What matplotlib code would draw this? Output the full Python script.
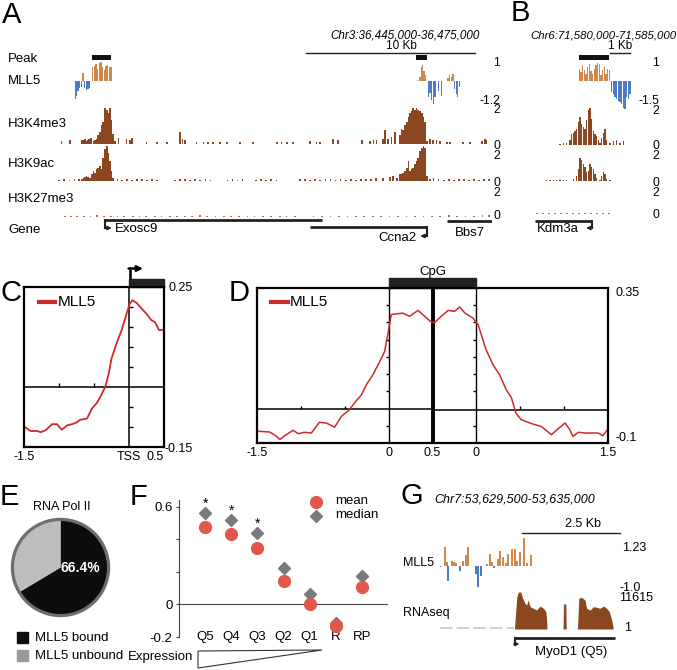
import matplotlib
matplotlib.use('Agg')
import matplotlib.pyplot as plt
from matplotlib.patches import Rectangle, Polygon, Circle
import numpy as np

plt.rcParams['font.family'] = ['Liberation Sans', 'DejaVu Sans']

# ======================= DATA =======================
# ---- Panel A (Chr3 locus, kb from left edge) ----
A_peak_start = [2.19, 21.36]
A_peak_end = [3.31, 22.01]
A_mll5_pos = [1.20, 1.28, 1.36, 1.46, 1.56, 1.66, 1.76, 1.86, 1.96, 2.06,
              2.22, 2.32, 2.42, 2.52, 2.62, 2.72, 2.82, 2.92, 3.02, 3.12, 3.22, 3.32,
              21.45, 21.60, 21.68, 21.76, 21.84, 21.92,
              22.09, 22.19, 22.29, 22.39, 22.49, 22.68, 22.88,
              23.25, 23.35, 23.45, 23.55, 23.64, 23.74, 23.84, 23.94]
A_mll5_val = [-0.93, -0.80, -0.50, -0.35, -0.30, 0.42, -0.35, -0.45, -0.40, -0.35,
              0.75, 0.80, 0.90, 0.65, 0.95, 1.00, 0.75, 0.60, 0.80, 0.85, 0.75, 0.75,
              0.08, 0.20, 0.75, 0.84, 0.55, 0.30,
              -0.83, -0.60, -1.00, -1.20, -0.85, -0.50, -0.76,
              0.15, 0.30, 0.20, 0.35, -0.40, -0.65, -0.83, -0.33]
A_k4_pos = [0.39, 0.89, 1.58, 1.68, 1.78, 1.87, 1.97, 2.03, 2.13,
            2.27, 2.37, 2.47, 2.56, 2.66, 2.76, 2.86, 2.96, 3.06, 3.16, 3.25, 3.35, 3.45, 3.55,
            3.75, 4.24, 4.44, 4.54, 5.42, 6.02, 6.61, 7.40, 7.55, 7.69, 8.38, 8.78, 9.07, 9.37, 9.76, 10.16, 10.95, 11.73,
            13.12, 13.41, 13.71, 14.10, 15.09, 15.48, 15.68, 16.47, 16.76, 18.15, 18.64, 18.84, 19.03, 19.43,
            19.53, 19.72, 19.92, 20.12, 20.41, 20.51, 20.61, 20.71, 20.81, 20.91, 21.01, 21.10, 21.20, 21.30, 21.40,
            21.50, 21.60, 21.70, 21.80, 21.90, 22.00,
            22.19, 22.38, 22.58, 22.78, 23.18, 23.37, 24.16, 24.56, 25.25, 25.44, 25.54]
A_k4_val = [0.15, 0.25, 0.20, 0.23, 0.30, 0.15, 0.20, 0.29, 0.34,
            0.19, 0.24, 0.29, 0.48, 0.67, 1.05, 1.24, 2.00, 1.90, 1.71, 2.00, 1.33, 0.57, 0.19,
            0.34, 0.30, 0.25, 0.35, 0.12, 0.10, 0.12, 0.68, 0.30, 0.20, 0.12, 0.10, 0.12, 0.10, 0.12, 0.10, 0.12, 0.10,
            0.12, 0.10, 0.12, 0.10, 0.15, 0.12, 0.10, 0.30, 0.20, 0.25, 0.15, 0.20, 0.25, 0.30,
            0.76, 0.29, 0.38, 0.67, 0.48, 0.86, 0.76, 1.05, 1.24, 1.52, 1.71, 1.81, 2.00, 1.90, 2.00,
            1.90, 1.81, 1.71, 1.52, 1.24, 0.19,
            0.30, 0.25, 0.20, 0.15, 0.12, 0.10, 0.10, 0.12, 0.15, 0.30, 0.25]
A_k9_pos = [1.58, 1.68, 1.78, 1.87, 1.97, 2.07, 2.17, 2.27, 2.37, 2.47, 2.56, 2.66, 2.76, 2.86, 2.96, 3.06, 3.16,
            3.25, 3.35, 3.45,
            19.43, 19.82, 20.02, 20.22, 20.41, 20.51, 20.61, 20.71, 20.81, 20.91, 21.01, 21.10, 21.20, 21.30, 21.40,
            21.50, 21.60, 21.70, 21.80, 21.90, 22.00, 22.20, 22.40]
A_k9_val = [0.10, 0.15, 0.23, 0.29, 0.25, 0.19, 0.38, 0.57, 0.48, 0.67, 0.76, 0.86, 0.67, 1.33, 1.81, 2.00, 1.62,
            1.14, 0.57, 0.19,
            0.15, 0.23, 0.29, 0.19, 0.38, 0.40, 0.48, 0.60, 0.76, 1.14, 0.57, 0.67, 0.76, 0.95, 1.14,
            1.33, 1.71, 1.90, 2.00, 1.90, 0.29, 0.10, 0.19]
A_k9_bg_pos = [0.25, 0.55, 0.85, 1.15, 1.40, 3.70, 3.95, 4.25, 4.55, 4.85, 5.15, 5.45, 5.75, 6.05,
               7.10, 7.40, 7.70, 8.00, 8.30, 8.60, 8.90, 9.20, 10.20, 10.50, 10.80, 11.10,
               11.90, 12.20, 12.50, 12.80, 13.10, 14.50, 14.80, 15.10, 15.40, 15.70, 16.00, 16.30,
               16.60, 16.90, 17.20, 17.50, 17.80, 18.10, 18.40, 18.70, 19.00,
               22.70, 23.00, 23.30, 23.60, 23.90, 24.20, 24.50, 24.80, 25.10, 25.40, 25.70]
A_k9_bg_val = [0.08, 0.12, 0.06, 0.10, 0.09, 0.12, 0.08, 0.10, 0.06, 0.12, 0.09, 0.07, 0.10, 0.08,
               0.06, 0.10, 0.12, 0.08, 0.09, 0.07, 0.10, 0.06, 0.08, 0.12, 0.07, 0.09,
               0.06, 0.10, 0.08, 0.12, 0.07, 0.09, 0.12, 0.08, 0.10, 0.06, 0.12, 0.09,
               0.07, 0.10, 0.08, 0.12, 0.06, 0.10, 0.09, 0.12, 0.15,
               0.10, 0.08, 0.12, 0.06, 0.10, 0.09, 0.07, 0.12, 0.08, 0.10, 0.12]
A_k27_pos = [0.60, 0.95, 1.30, 1.70, 2.10, 2.50, 2.90, 3.30, 3.70, 4.10, 4.60, 5.00, 5.40, 5.90, 6.30, 6.80,
             7.20, 7.70, 8.10, 8.60, 9.00, 9.50, 10.00, 10.40, 10.90, 11.40, 11.80, 12.30, 12.80, 13.30,
             13.70, 14.20, 15.30, 15.80, 16.30, 16.80, 17.30, 17.80, 18.30, 18.80, 19.30, 19.80, 20.30,
             20.80, 21.30, 21.80, 22.30, 22.80, 23.30, 23.80, 24.30, 24.80, 25.30, 25.70]
A_k27_val = [0.06, 0.08, 0.05, 0.07, 0.06, 0.09, 0.05, 0.07, 0.06, 0.08, 0.05, 0.07, 0.06, 0.05, 0.08, 0.06,
             0.07, 0.05, 0.06, 0.09, 0.05, 0.07, 0.06, 0.08, 0.05, 0.06, 0.07, 0.05, 0.08, 0.06,
             0.05, 0.07, 0.06, 0.05, 0.08, 0.06, 0.07, 0.05, 0.06, 0.08, 0.05, 0.07, 0.06,
             0.05, 0.08, 0.06, 0.07, 0.05, 0.09, 0.06, 0.07, 0.08, 0.10, 0.09]
A_gene_name = ['Exosc9', 'Ccna2', 'Bbs7']
A_gene_start = [2.96, 15.09, 23.20]
A_gene_end = [15.80, 22.01, 25.86]
A_gene_strand = ['+', '-', '.']

# ---- Panel B (Chr6 locus, kb) ----
B_peak_start = [2.20]
B_peak_end = [3.70]
B_mll5_pos = [2.22, 2.30, 2.39, 2.47, 2.55, 2.64, 2.72, 2.80, 2.89, 2.97, 3.05, 3.14, 3.22, 3.30, 3.39, 3.47,
              3.55, 3.64, 3.72,
              3.83, 3.91, 4.00, 4.08, 4.16, 4.25, 4.33, 4.41, 4.50, 4.58, 4.66, 4.75]
B_mll5_val = [0.65, 0.47, 0.82, 0.56, 0.39, 0.74, 0.91, 0.53, 0.35, 0.65, 0.82, 0.95, 0.91, 0.30, 0.56, 0.74,
              0.39, 0.65, 0.56,
              -0.58, -0.67, -0.84, -0.93, -1.02, -1.10, -1.19, -1.37, -1.46, -0.84, -0.93, -0.67]
B_k4_pos = [1.25, 1.42, 1.58, 1.75, 1.83, 1.92, 2.00, 2.08, 2.17, 2.25, 2.33, 2.42, 2.50, 2.58, 2.67, 2.75,
            2.83, 2.92, 3.00, 3.08, 3.17, 3.25, 3.33, 3.42, 3.50, 3.58, 3.75, 3.92, 4.08, 4.25, 4.42]
B_k4_val = [0.06, 0.10, 0.13, 0.29, 0.57, 0.67, 0.76, 0.86, 1.24, 1.52, 1.14, 0.95, 0.86, 1.33, 1.90, 2.00,
            1.43, 0.76, 0.57, 0.48, 0.29, 0.13, 0.38, 0.67, 0.86, 0.29, 0.13, 0.19, 0.29, 0.13, 0.19]
B_k9_pos = [0.58, 0.75, 0.92, 1.08, 1.25, 1.42, 1.58, 1.92, 2.08, 2.17, 2.25, 2.33, 2.42, 2.50, 2.58, 2.67,
            2.75, 2.83, 2.92, 3.00, 3.08, 3.25, 3.33, 3.42, 3.50, 3.58, 3.75]
B_k9_val = [0.04, 0.04, 0.05, 0.04, 0.05, 0.04, 0.05, 0.10, 0.29, 0.67, 1.30, 1.20, 0.95, 0.80, 0.50, 0.60,
            0.95, 0.80, 0.70, 0.40, 0.19, 0.04, 0.29, 0.50, 0.40, 0.10, 0.04]
B_k27_pos = [0.10, 0.40, 0.70, 1.00, 1.30, 1.60, 1.90, 2.20, 2.50, 2.80, 3.10, 3.40, 3.70]
B_k27_val = [0.06, 0.05, 0.07, 0.05, 0.06, 0.08, 0.05, 0.07, 0.06, 0.05, 0.07, 0.06, 0.05]
B_gene_name = ['Kdm3a']
B_gene_start = [0.00]
B_gene_end = [2.85]
B_gene_strand = ['-']

# ---- Panel C (TSS profile) ----
C_x = [-1.49, -1.405, -1.31, -1.26, -1.19, -1.10, -1.03, -0.96, -0.885, -0.815, -0.74, -0.70, -0.60, -0.53,
       -0.46, -0.41, -0.34, -0.29, -0.25, -0.18, -0.105, -0.035, 0.01, 0.05, 0.11, 0.18, 0.25, 0.32, 0.37,
       0.43, 0.48]
C_y = [-0.10, -0.11, -0.11, -0.113, -0.108, -0.093, -0.093, -0.107, -0.096, -0.093, -0.088, -0.082, -0.079,
       -0.054, -0.04, -0.025, 0.0, 0.033, 0.071, 0.108, 0.142, 0.183, 0.208, 0.217, 0.21, 0.196, 0.183,
       0.167, 0.1625, 0.142, 0.143]

# ---- Panel D (CpG profile; x in scaled units 0..4) ----
D_x = [0.01, 0.144, 0.22, 0.26, 0.315, 0.41, 0.47, 0.54, 0.62, 0.71, 0.79, 0.885, 0.96, 1.056, 1.11, 1.19,
       1.246, 1.32, 1.40, 1.455, 1.49, 1.53, 1.59, 1.66, 1.74, 1.835, 1.91, 1.99, 2.025, 2.10, 2.18, 2.25,
       2.31, 2.37, 2.46, 2.52, 2.61, 2.69, 2.765, 2.84, 2.90, 2.95, 3.01, 3.09, 3.145, 3.24, 3.355, 3.43,
       3.51, 3.56, 3.60, 3.66, 3.75, 3.89, 3.94, 3.99]
D_y = [-0.066, -0.068, -0.08, -0.09, -0.079, -0.063, -0.073, -0.069, -0.071, -0.04, -0.042, -0.054, -0.023,
       -0.003, 0.016, 0.04, 0.069, 0.098, 0.137, 0.166, 0.215, 0.273, 0.275, 0.277, 0.268, 0.285, 0.268,
       0.25, 0.25, 0.268, 0.285, 0.282, 0.295, 0.277, 0.263, 0.243, 0.171, 0.127, 0.098, 0.055, 0.031,
       -0.013, -0.032, -0.04, -0.045, -0.052, -0.076, -0.059, -0.042, -0.059, -0.081, -0.069, -0.071,
       -0.071, -0.079, -0.063]
D_tick_pos = [0, 1.5, 2.0, 2.5, 4.0]
D_tick_lab = ['-1.5', '0', '0.5', '0', '1.5']

# ---- Panel E ----
E_labels = ['MLL5 bound', 'MLL5 unbound']
E_values = [66.4, 33.6]

# ---- Panel F ----
F_cats = ['Q5', 'Q4', 'Q3', 'Q2', 'Q1', 'R', 'RP']
F_mean = [0.473, 0.429, 0.345, 0.141, 0.004, -0.133, 0.106]
F_median = [0.559, 0.518, 0.437, 0.224, 0.061, -0.112, 0.171]
F_signif = [True, True, True, False, False, False, False]

# ---- Panel G (Chr7 locus, kb) ----
G_mll5_pos = [0.00, 0.13, 0.19, 0.21, 0.30, 0.36, 0.41, 0.51, 0.59, 0.66, 0.72, 0.92, 0.98, 1.04,
              1.21, 1.28, 1.33, 1.38, 1.47, 1.53, 1.60, 1.68, 1.74, 1.83, 1.91, 1.97, 2.04, 2.15, 2.23, 2.32]
G_mll5_val = [-0.05, 0.82, 0.15, -0.67, 0.22, 0.15, 0.10, -0.22, 0.22, 0.45, 0.82, -0.37, -0.97, -0.45,
              0.07, 0.52, 0.15, -0.10, 0.30, 0.64, 0.37, 0.10, 0.52, 0.74, 0.74, 0.22, 0.60, 1.23, 0.10, 0.45]
G_rna_kb = [1.90, 1.91, 1.96, 2.00, 2.06, 2.11, 2.17, 2.21, 2.25, 2.30, 2.38, 2.47, 2.55, 2.64, 2.70, 2.72, 2.73,
            3.14, 3.15, 3.21, 3.22,
            3.50, 3.51, 3.54, 3.61, 3.70, 3.74, 3.83, 3.91, 4.00, 4.08, 4.17, 4.25, 4.32, 4.38, 4.41, 4.42]
G_rna_val = [0, 2000, 10150, 11615, 11615, 9630, 8060, 7530, 9100, 7010, 6490, 5960, 7220, 6490, 5440, 3000, 0,
             0, 7850, 7850, 0,
             0, 730, 9630, 9940, 9100, 6490, 5960, 7010, 6800, 6490, 7220, 6490, 5440, 2830, 1000, 0]
G_gene_name = ['MyoD1 (Q5)']
G_gene_start = [1.91]
G_gene_end = [4.46]
G_gene_strand = ['+']

# ======================= STYLE / LAYOUT =======================
ORANGE = '#d0874c'
BLUE = '#4d7cc4'
BROWN = '#8a4720'
RED = '#cc2b2b'
FRED = '#e2574c'

W, H = 677, 670
fig = plt.figure(figsize=(W / 100, H / 100), dpi=100)


def axp(x0, y0, x1, y1):
    ax = fig.add_axes([x0 / W, 1 - y1 / H, (x1 - x0) / W, (y1 - y0) / H])
    ax.patch.set_alpha(0)
    return ax


def ftext(x, y, s, **kw):
    kw.setdefault('va', 'center')
    return fig.text(x / W, 1 - y / H, s, **kw)


ov = axp(0, 0, W, H)
ov.set_xlim(0, W)
ov.set_ylim(H, 0)
ov.axis('off')
ov.set_zorder(10)


def track(x0, x1, y0, y1, xlim, ylim):
    ax = axp(x0, y0, x1, y1)
    ax.set_xlim(*xlim)
    ax.set_ylim(*ylim)
    ax.axis('off')
    return ax


def mll5_bars(ax, pos, val, width):
    cols = [ORANGE if v > 0 else BLUE for v in val]
    ax.bar(pos, val, width=width, color=cols, linewidth=0, align='center')


def draw_genes(ax, names, starts, ends, strands, rows, drops, text_x, text_y, text_ha, arrow_len):
    for n, s, e, st, r, d, tx, ty, ha in zip(names, starts, ends, strands, rows, drops, text_x, text_y, text_ha):
        ax.plot([s, e], [r, r], color='#222', lw=2.0, solid_capstyle='butt')
        if st in '+-':
            tss = s if st == '+' else e
            sign = 1 if st == '+' else -1
            ax.plot([tss, tss], [r, r + d], color='#222', lw=1.5)
            ax.annotate('', xy=(tss + sign * arrow_len, r + d), xytext=(tss - sign * 0.02, r + d),
                        arrowprops=dict(arrowstyle='-|>', lw=1.3, color='#222', mutation_scale=5,
                                        shrinkA=0, shrinkB=0))
        ax.text(tx, ty, n, ha=ha, va='center', fontsize=9.5)


def scale_labels(x, entries):
    # stacked track-range labels (e.g. "0" of one track directly above "2" of the next)
    for s, y in entries:
        ftext(x, y, s, fontsize=8.8, ha='right', multialignment='right', linespacing=0.72)


# ---------------- Panel A ----------------
AX0, AX1, AKB = 55, 492, (0, 25.86)
pa = track(AX0, AX1, 55, 60, AKB, (0, 1))
pa.barh(0.5, np.array(A_peak_end) - np.array(A_peak_start), left=A_peak_start, height=1, color='#111')
ma = track(AX0, AX1, 62, 104, AKB, (-1.2, 1))
mll5_bars(ma, A_mll5_pos, A_mll5_val, 0.075)
k4a = track(AX0, AX1, 108, 144, AKB, (0, 2))
k4a.bar(A_k4_pos, A_k4_val, width=0.1, color=BROWN, linewidth=0)
k9a = track(AX0, AX1, 146, 181, AKB, (0, 2))
k9a.bar(A_k9_pos, A_k9_val, width=0.1, color=BROWN, linewidth=0)
k9a.bar(A_k9_bg_pos, A_k9_bg_val, width=0.1, color=BROWN, linewidth=0)
k27a = track(AX0, AX1, 183, 217, AKB, (0, 2))
k27a.bar(A_k27_pos, A_k27_val, width=0.1, color='#a8714d', linewidth=0)
ga = track(AX0, AX1, 212, 245, AKB, (245, 212))
draw_genes(ga, A_gene_name, A_gene_start, A_gene_end, A_gene_strand,
           rows=[220, 227, 221], drops=[8, 9, 0],
           text_x=[3.55, 21.42, 24.53], text_y=[229, 238, 233], text_ha=['left', 'right', 'center'],
           arrow_len=0.4)

for s, y in [('Peak', 59), ('MLL5', 81), ('H3K4me3', 124), ('H3K9ac', 164), ('H3K27me3', 199), ('Gene', 230)]:
    ftext(8, y, s, fontsize=9.5)
scale_labels(500, [('1', 63), ('-1.2\n2', 105.5), ('0\n2', 151), ('0\n2', 188), ('0', 216)])
ftext(405, 35, 'Chr3:36,445,000-36,475,000', fontsize=8.4, style='italic', ha='center')
ftext(401, 46, '10 Kb', fontsize=8.5, ha='center')
ov.plot([306, 475], [52.5, 52.5], color='#222', lw=1)

# ---------------- Panel B ----------------
BX0, BX1, BKB = 535, 640, (0, 5.25)
pb = track(BX0, BX1, 55, 60, BKB, (0, 1))
pb.barh(0.5, np.array(B_peak_end) - np.array(B_peak_start), left=B_peak_start, height=1, color='#111')
mb = track(BX0, BX1, 62, 110, BKB, (-1.5, 1))
mll5_bars(mb, B_mll5_pos, B_mll5_val, 0.06)
k4b = track(BX0, BX1, 108, 145, BKB, (0, 2))
k4b.bar(B_k4_pos, B_k4_val, width=0.085, color=BROWN, linewidth=0)
k9b = track(BX0, BX1, 146, 181, BKB, (0, 2))
k9b.bar(B_k9_pos, B_k9_val, width=0.085, color=BROWN, linewidth=0)
k27b = track(BX0, BX1, 180, 214, BKB, (0, 2))
k27b.bar(B_k27_pos, B_k27_val, width=0.08, color='#a8714d', linewidth=0)
gb = track(BX0, BX1, 212, 245, BKB, (245, 212))
draw_genes(gb, B_gene_name, B_gene_start, B_gene_end, B_gene_strand,
           rows=[221], drops=[7], text_x=[0.1], text_y=[229], text_ha=['left'], arrow_len=0.3)
scale_labels(659, [('1', 63), ('-1.5\n2', 106), ('0\n2', 151), ('0\n2', 188), ('0', 215)])
ftext(603, 35, 'Chr6:71,580,000-71,585,000', fontsize=8.2, style='italic', ha='center')
ftext(620, 46, '1 Kb', fontsize=8.5, ha='center')
ov.plot([610, 630], [52.5, 52.5], color='#222', lw=1)

# ---------------- Panel C ----------------
axc = axp(24, 287, 164, 447)
axc.set_xlim(-1.5, 0.5)
axc.set_ylim(-0.15, 0.25)
for sp in axc.spines.values():
    sp.set_linewidth(1.6)
axc.axhline(0, color='k', lw=1.1)
axc.axvline(0, color='k', lw=1.1)
axc.plot([0] * 6, [-0.1, -0.05, 0.05, 0.1, 0.15, 0.2], ls='none', marker=1, ms=3, color='k', mew=1)
axc.plot([-1.0, -0.5], [0, 0], ls='none', marker=2, ms=3, color='k', mew=1)
axc.plot(C_x, C_y, color=RED, lw=1.3)
axc.set_yticks([])
axc.set_xticks([-1.5, 0, 0.5])
axc.set_xticklabels(['-1.5', 'TSS', '0.5'], fontsize=9)
axc.get_xticklabels()[-1].set_ha('right')
axc.tick_params(axis='x', length=0, pad=3)
axc.add_patch(Rectangle((0, 0.25), 0.5, 0.021, color='#222', clip_on=False, transform=axc.transData))
axc.plot([0.107, 0.221], [0.906, 0.906], transform=axc.transAxes, color=RED, lw=3)
axc.text(0.243, 0.906, 'MLL5', transform=axc.transAxes, fontsize=11, va='center')
axc.text(1.03, 0.995, '0.25', transform=axc.transAxes, fontsize=9, va='center')
axc.text(1.005, -0.01, '-0.15', transform=axc.transAxes, fontsize=9, va='center')
ov.plot([129.5, 129.5], [279, 268.5], color='k', lw=1.8, solid_capstyle='butt')
ov.annotate('', xy=(143, 268.5), xytext=(128.6, 268.5),
            arrowprops=dict(arrowstyle='-|>', lw=1.8, color='k', mutation_scale=8, shrinkA=0, shrinkB=0))

# ---------------- Panel D ----------------
axd = axp(257, 288, 608, 443)
axd.set_xlim(0, 4)
axd.set_ylim(-0.1, 0.35)
for sp in axd.spines.values():
    sp.set_linewidth(1.6)
axd.plot([0, 2], [0.0, 0.0], color='k', lw=1.1)
axd.plot([2, 4], [-0.003, -0.003], color='k', lw=1.1)
axd.axvline(1.5, color='k', lw=1.0)
axd.axvline(2.5, color='k', lw=1.0)
axd.axvline(2.0, color='k', lw=2.8)
for xv in (1.5, 2.5):
    axd.plot([xv] * 7, [-0.05, 0.05, 0.1, 0.15, 0.2, 0.25, 0.3], ls='none', marker=0, ms=2.5, color='k', mew=1)
axd.plot([0.5, 1.0, 3.0, 3.5], [0, 0, 0, 0], ls='none', marker=2, ms=2.5, color='k', mew=1)
axd.plot(D_x, D_y, color=RED, lw=1.1)
axd.set_yticks([])
axd.set_xticks(D_tick_pos)
axd.set_xticklabels(D_tick_lab, fontsize=9)
axd.tick_params(axis='x', length=0, pad=3)
axd.add_patch(Rectangle((1.5, 0.35), 1.0, 0.028, color='#222', clip_on=False, transform=axd.transData))
axd.text(2.0, 0.395, 'CpG', ha='center', va='center', fontsize=9.5)
axd.plot([0.04, 0.088], [0.91, 0.91], transform=axd.transAxes, color=RED, lw=3)
axd.text(0.094, 0.91, 'MLL5', transform=axd.transAxes, fontsize=11, va='center')
axd.text(1.02, 0.97, '0.35', transform=axd.transAxes, fontsize=9, va='center')
axd.text(1.02, 0.03, '-0.1', transform=axd.transAxes, fontsize=9, va='center')

# ---------------- Panel E ----------------
axe = axp(10, 517, 111, 618)
axe.pie(E_values, colors=['#0d0d0d', '#bdbdbd'], startangle=90, counterclock=False,
        wedgeprops=dict(linewidth=0))
axe.add_patch(Circle((0, 0), 1, fill=False, ec='#6e6e6e', lw=2.3))
axe.set_xlim(-1.05, 1.05)
axe.set_ylim(-1.05, 1.05)
axe.set_aspect('equal')
axe.text(0.42, 0.0, f'{E_values[0]:.1f}%', color='white', fontweight='bold', fontsize=10,
         ha='center', va='center')
ftext(62, 507, 'RNA Pol II', fontsize=9, ha='center')
for i, (lab, col) in enumerate(zip(E_labels, ['#0d0d0d', '#9a9a9a'])):
    ov.add_patch(Rectangle((17, 632 + 18 * i), 11, 11, color=col))
    ftext(35, 638 + 18 * i, lab, fontsize=9.5)

# ---------------- Panel F ----------------
axf = axp(179, 500, 388, 637)
axf.set_xlim(-1, 7)
axf.set_ylim(-0.2, 0.64)
for k in ('top', 'right', 'bottom'):
    axf.spines[k].set_visible(False)
axf.spines['left'].set_linewidth(0.8)
axf.spines['left'].set_color('#444')
axf.axhline(0, color='#444', lw=0.8)
axf.set_xticks([])
axf.set_yticks([-0.2, 0, 0.2, 0.4, 0.6])
axf.set_yticklabels(['-0.2', '0', '', '', '0.6'])
axf.tick_params(axis='y', length=2.5, width=0.8, pad=2, labelsize=9.5, color='#444')
xs = np.arange(len(F_cats))
axf.plot(xs, F_median, 'D', color='#7a7a7a', ms=6.5, zorder=3, clip_on=False)
axf.plot(xs, F_mean, 'o', color=FRED, ms=8.5, zorder=4, clip_on=False)
for i, (c, sg) in enumerate(zip(F_cats, F_signif)):
    axf.text(i, -0.2, c, ha='center', va='center', fontsize=9.5)
    if sg:
        axf.text(i, F_median[i] + 0.055, '*', ha='center', va='center', fontsize=10)
ov.plot([316], [502], 'o', color=FRED, ms=8.5)
ov.plot([316], [516], 'D', color='#7a7a7a', ms=6.5)
ftext(335, 501, 'mean', fontsize=9.5)
ftext(335, 515, 'median', fontsize=9.5)
ftext(193, 657, 'Expression', fontsize=9.5, ha='right')
ov.add_patch(Polygon([(198, 651), (198, 668), (322, 650)], closed=True, fill=False, lw=0.8, ec='#333'))

# ---------------- Panel G ----------------
GX0, GX1, GKB = 440, 616, (0, 4.49)
mg = track(GX0, GX1, 538, 588, GKB, (-1.0, 1.23))
mll5_bars(mg, G_mll5_pos, G_mll5_val, 0.05)
rg = track(GX0, GX1, 592, 629, GKB, (0, 11615))
rg.fill_between(G_rna_kb, G_rna_val, color=BROWN, lw=0)
rg.plot([0, 1.9], [250, 250], color='#d8d0c8', lw=1.5, ls=(0, (6, 2)))
gg = track(GX0, GX1, 632, 662, GKB, (662, 632))
draw_genes(gg, G_gene_name, G_gene_start, G_gene_end, G_gene_strand,
           rows=[638], drops=[6], text_x=[3.35], text_y=[652], text_ha=['center'], arrow_len=0.12)
ftext(403, 563, 'MLL5', fontsize=9)
ftext(403, 613, 'RNAseq', fontsize=9)
ftext(622, 548, '1.23', fontsize=9)
ftext(619, 593, '-1.0\n11615', fontsize=9, multialignment='left', linespacing=0.78)
ftext(624, 628, '1', fontsize=9)
ftext(434, 500, 'Chr7:53,629,500-53,635,000', fontsize=9, style='italic')
ftext(583, 524, '2.5 Kb', fontsize=9, ha='center')
ov.plot([522, 620], [533, 533], color='#222', lw=1)

# ---------------- Panel letters ----------------
for s, x, y in [('A', 2, 15), ('B', 511, 13), ('C', 1, 293), ('D', 229, 293), ('E', 0, 497),
                ('F', 130, 497), ('G', 401, 496)]:
    ftext(x, y, s, fontsize=21)

fig.savefig('out.png', dpi=100)
